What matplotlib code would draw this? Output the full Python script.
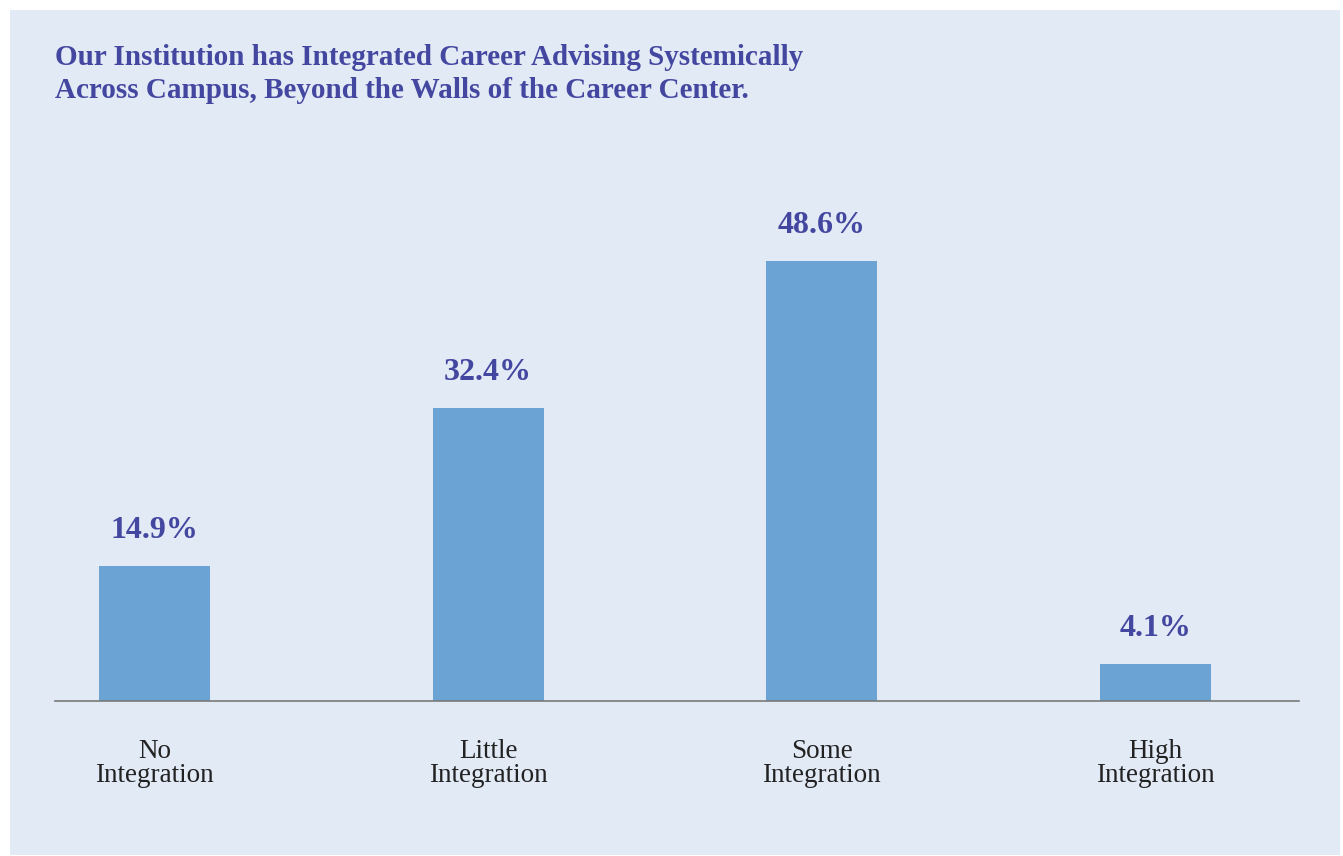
# Integração do aconselhamento de carreira — barras simples
import numpy as np
import matplotlib.pyplot as plt
from matplotlib.patches import Rectangle

# ----------------- dados -----------------
CATEGORIAS = ["No\nIntegration", "Little\nIntegration", "Some\nIntegration", "High\nIntegration"]
VALORES = [14.9, 32.4, 48.6, 4.1]
TITULO = ("Our Institution has Integrated Career Advising Systemically\n"
          "Across Campus, Beyond the Walls of the Career Center.")

# ----------------- paleta -----------------
FUNDO = "#E2EAF6"
BARRA = "#6CA3D5"
ROXO = "#4447A0"
TEXTO = "#222222"
FONTE = ["Liberation Serif", "DejaVu Serif"]

plt.rcParams["font.family"] = FONTE

fig = plt.figure(figsize=(13.43, 8.56), dpi=100)
fig.patch.set_facecolor("white")

# painel azul claro (atrás dos eixos)
fig.patches.append(Rectangle((10 / 1343, 1 / 856), 1330 / 1343, 845 / 856,
                             transform=fig.transFigure, facecolor=FUNDO,
                             edgecolor="none", zorder=-10))

ax = fig.add_axes([55 / 1343, 155 / 856, 1244 / 1343, 551 / 856])
ax.set_facecolor("none")
ax.set_zorder(1)

x = np.arange(len(VALORES))
bars = ax.bar(x, VALORES, width=0.333, color=BARRA, zorder=2)

for b, v in zip(bars, VALORES):
    ax.annotate(f"{v:.1f}%", xy=(b.get_x() + b.get_width() / 2, v),
                xytext=(0, 15), textcoords="offset points",
                ha="center", va="bottom", fontsize=23, fontweight="bold",
                color=ROXO)

ax.set_xlim(-0.298, 3.43)
ax.set_ylim(0, 60.9)
ax.set_xticks(x)
ax.set_xticklabels(CATEGORIAS, fontsize=19.5, color=TEXTO, linespacing=0.98)
ax.tick_params(axis="x", length=0, pad=27)
ax.set_yticks([])
for s in ["top", "right", "left"]:
    ax.spines[s].set_visible(False)
ax.spines["bottom"].set_color("#7a7a7a")
ax.spines["bottom"].set_linewidth(1.2)

fig.text(55 / 1343, 1 - 44 / 856, TITULO, ha="left", va="top",
         fontsize=21, fontweight="bold", color=ROXO, linespacing=1.3)

fig.savefig("out.png", dpi=100, facecolor="white")
